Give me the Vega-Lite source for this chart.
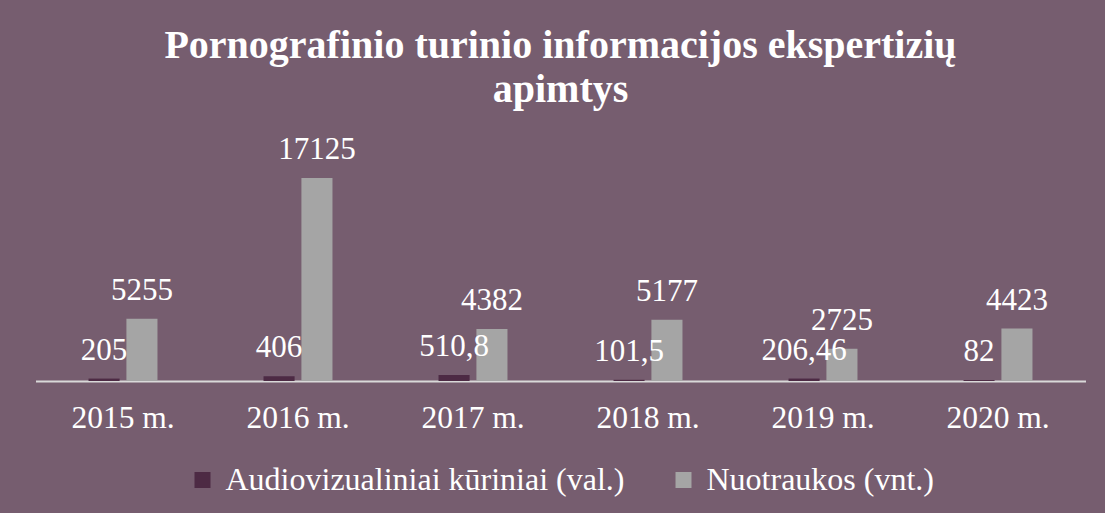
{
  "$schema": "https://vega.github.io/schema/vega-lite/v6.json",
  "width": 1050,
  "height": 237,
  "autosize": "none",
  "padding": {"left": 35.5, "top": 144, "right": 19.5, "bottom": 132},
  "background": "#765D6F",
  "title": {
    "text": ["Pornografinio turinio informacijos ekspertizių", "apimtys"],
    "font": "Liberation Serif",
    "fontSize": 40,
    "fontWeight": "bold",
    "color": "white",
    "anchor": "middle",
    "frame": "group",
    "offset": 24,
    "lineHeight": 44
  },
  "data": {
    "values": [
      {"year": "2015 m.", "series": "Audiovizualiniai kūriniai (val.)", "value": 205},
      {"year": "2015 m.", "series": "Nuotraukos (vnt.)", "value": 5255},
      {"year": "2016 m.", "series": "Audiovizualiniai kūriniai (val.)", "value": 406},
      {"year": "2016 m.", "series": "Nuotraukos (vnt.)", "value": 17125},
      {"year": "2017 m.", "series": "Audiovizualiniai kūriniai (val.)", "value": 510.8},
      {"year": "2017 m.", "series": "Nuotraukos (vnt.)", "value": 4382},
      {"year": "2018 m.", "series": "Audiovizualiniai kūriniai (val.)", "value": 101.5},
      {"year": "2018 m.", "series": "Nuotraukos (vnt.)", "value": 5177},
      {"year": "2019 m.", "series": "Audiovizualiniai kūriniai (val.)", "value": 206.46},
      {"year": "2019 m.", "series": "Nuotraukos (vnt.)", "value": 2725},
      {"year": "2020 m.", "series": "Audiovizualiniai kūriniai (val.)", "value": 82},
      {"year": "2020 m.", "series": "Nuotraukos (vnt.)", "value": 4423}
    ]
  },
  "transform": [
    {"calculate": "replace(toString(datum.value), '.', ',')", "as": "label"}
  ],
  "encoding": {
    "x": {
      "field": "year",
      "type": "nominal",
      "sort": null,
      "scale": {"paddingInner": 0.606, "paddingOuter": 0.303},
      "axis": {
        "title": null,
        "labelAngle": 0,
        "labelFont": "Liberation Serif",
        "labelFontSize": 31.5,
        "labelColor": "white",
        "ticks": false,
        "domainColor": "#D9D9D9",
        "domainWidth": 2,
        "labelPadding": 21,
        "grid": false
      }
    },
    "xOffset": {
      "field": "series",
      "type": "nominal",
      "sort": null,
      "scale": {"paddingInner": 0.18, "paddingOuter": 0}
    },
    "y": {
      "field": "value",
      "type": "quantitative",
      "stack": null,
      "scale": {"domain": [0, 20000]},
      "axis": null
    }
  },
  "layer": [
    {
      "mark": {"type": "bar"},
      "encoding": {
        "color": {
          "field": "series",
          "type": "nominal",
          "sort": null,
          "scale": {
            "domain": ["Audiovizualiniai kūriniai (val.)", "Nuotraukos (vnt.)"],
            "range": ["#4D2A44", "#A5A5A5"]
          },
          "legend": {
            "title": null,
            "orient": "bottom",
            "direction": "horizontal",
            "symbolType": "square",
            "symbolSize": 256,
            "symbolStrokeWidth": 0,
            "labelFont": "Liberation Serif",
            "labelFontSize": 32,
            "labelColor": "white",
            "labelLimit": 600,
            "labelOffset": 7,
            "columnPadding": 43,
            "offset": 30
          }
        }
      }
    },
    {
      "mark": {
        "type": "text",
        "font": "Liberation Serif",
        "fontSize": 31,
        "color": "white",
        "baseline": "alphabetic",
        "dy": -19
      },
      "encoding": {"text": {"field": "label", "type": "nominal"}}
    }
  ],
  "config": {
    "view": {"stroke": null},
    "legend": {"layout": {"bottom": {"anchor": "middle"}}}
  }
}
